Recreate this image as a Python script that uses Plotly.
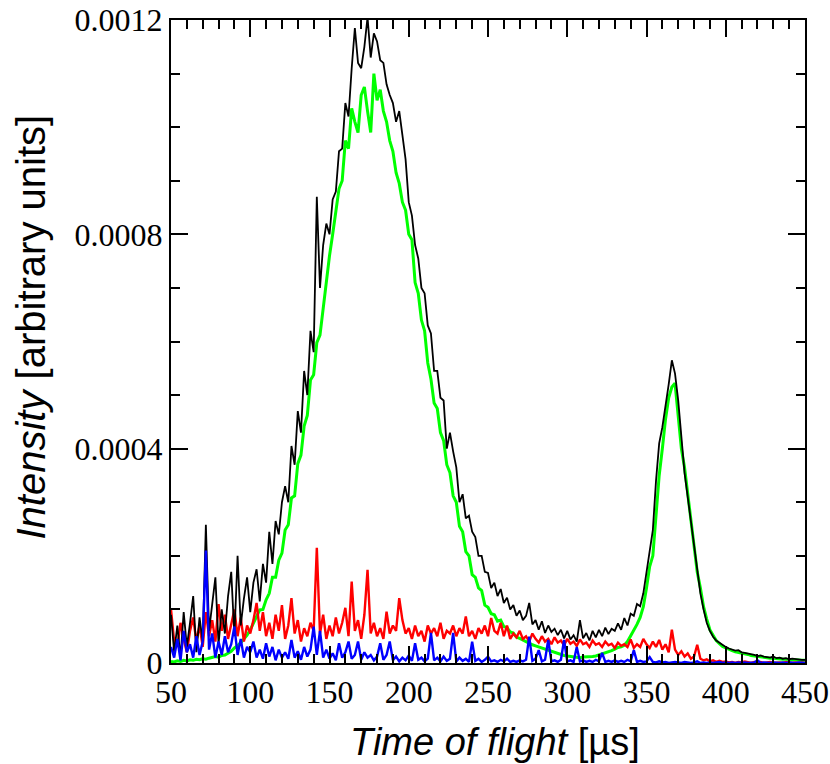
import plotly.graph_objects as go

# time of flight axis, 2 us sampling (50 .. 450 us)
tof = list(range(50, 451, 2))

# intensities in units of 1e-6 (arbitrary units)
total = [
    90, 20, 70, 10, 95, 30, 75, 125, 20, 85,
    40, 258, 60, 110, 160, 35, 100, 55, 125, 170,
    50, 200, 70, 120, 160, 95, 150, 175, 115, 185,
    150, 245, 185, 265, 240, 300, 330, 300, 405, 370,
    470, 430, 545, 500, 620, 580, 870, 700, 780, 820,
    800, 865, 880, 955, 960, 1045, 1020, 1110, 1185, 1120,
    1110, 1150, 1205, 1130, 1175, 1160, 1125, 1120, 1080, 1060,
    1045, 1010, 1030, 985, 940, 860, 835, 780, 755, 700,
    690, 630, 615, 545, 545, 495, 490, 400, 430, 395,
    365, 300, 315, 270, 275, 245, 235, 200, 200, 170,
    168, 140, 150, 125, 138, 112, 122, 100, 108, 88,
    98, 80, 88, 112, 72, 80, 62, 78, 56, 70,
    58, 64, 52, 62, 46, 60, 44, 52, 40, 80,
    46, 56, 42, 60, 48, 62, 50, 66, 54, 64,
    60, 74, 62, 84, 70, 92, 88, 110, 106, 130,
    170, 205, 248, 340, 410, 440, 478, 520, 565, 540,
    490, 420, 355, 310, 265, 210, 165, 130, 100, 75,
    60, 49, 42, 38, 33, 30, 27, 25, 23, 24,
    20, 19, 18, 16, 15, 13, 14, 12, 11, 10,
    12, 9, 10, 8, 9, 7, 8, 7, 6, 6,
    6,
]

fit = [
    3, 2, 4, 3, 5, 4, 6, 5, 7, 6,
    8, 7, 9, 10, 12, 11, 14, 15, 18, 22,
    28, 32, 38, 44, 52, 62, 75, 85, 99, 100,
    118, 130, 160, 160, 192, 205, 248, 258, 308, 312,
    372, 388, 442, 462, 528, 538, 598, 612, 662, 705,
    760, 800, 840, 885, 900, 975, 960, 1035, 1010, 990,
    1060, 1075, 1030, 990, 1100, 1050, 1070, 1030, 1010, 975,
    955, 915, 895, 860, 845, 800, 790, 710, 690, 640,
    620, 560, 530, 485, 475, 430, 415, 370, 355, 312,
    300, 255, 245, 208, 200, 165, 160, 140, 135, 108,
    104, 92, 90, 78, 80, 68, 66, 58, 56, 48,
    46, 43, 40, 36, 34, 32, 30, 28, 25, 23,
    21, 19, 17, 16, 14, 13, 12, 11, 11, 10,
    11, 11, 11, 12, 13, 15, 16, 18, 20, 23,
    26, 29, 30, 33, 40, 50, 60, 72, 85, 105,
    140, 180, 200, 285, 350, 400, 455, 495, 515, 522,
    460, 400, 365, 315, 260, 210, 170, 140, 105, 82,
    62, 52, 42, 36, 31, 28, 25, 23, 21, 20,
    18, 17, 16, 14, 13, 12, 11, 10, 10, 9,
    9, 8, 8, 7, 7, 6, 6, 6, 5, 5,
    5,
]

red_comp = [
    100, 40, 30, 75, 45, 20, 60, 85, 40, 70,
    30, 95, 50, 80, 40, 110, 60, 90, 45, 75,
    100, 50, 85, 40, 70, 55, 80, 112, 60, 95,
    50, 75, 45, 90, 60, 108, 45, 70, 121, 55,
    80, 40, 65, 50, 75, 60, 215, 55, 90, 45,
    70, 50, 85, 55, 75, 103, 50, 152, 60, 80,
    45, 90, 174, 55, 75, 50, 65, 45, 96, 55,
    70, 60, 121, 80, 55, 65, 45, 70, 50, 60,
    40, 70, 55, 65, 50, 75, 45, 60, 55, 70,
    50, 65, 55, 87, 50, 60, 45, 65, 55, 70,
    50, 84, 60, 55, 75, 50, 70, 45, 55, 48,
    60, 45, 50, 40, 55, 45, 38, 50, 40, 45,
    35, 48, 38, 42, 33, 45, 36, 40, 32, 44,
    35, 38, 30, 42, 34, 37, 30, 40, 33, 36,
    28, 38, 32, 35, 30, 44, 28, 35, 30, 45,
    35, 28, 40, 30, 43, 25, 35, 20, 62, 25,
    15, 22, 12, 18, 8, 12, 34, 8, 5, 7,
    3, 5, 2, 4, 2, 3, 1, 2, 0, 2,
    1, 3, 1, 0, 2, 1, 2, 0, 1, 2,
    0, 1, 1, 0, 2, 1, 0, 1, 0, 1,
    0,
]

blue_comp = [
    30, 10, 45, 5, 60, 20, 35, 10, 50, 15,
    40, 210, 25, 55, 10, 40, 15, 50, 20, 35,
    68, 15, 45, 10, 30, 20, 40, 10, 25, 8,
    37, 12, 30, 5, 25, 10, 20, 8, 43, 10,
    22, 6, 30, 12, 25, 68, 15, 60, 10, 25,
    8, 18, 5, 37, 10, 20, 40, 8, 15, 40,
    6, 20, 10, 15, 5, 12, 37, 6, 15, 40,
    5, 12, 3, 10, 5, 14, 4, 37, 6, 10,
    3, 8, 56, 5, 10, 3, 12, 4, 8, 56,
    3, 10, 4, 8, 2, 40, 4, 8, 2, 6,
    12, 3, 5, 2, 6, 3, 8, 2, 4, 2,
    5, 3, 6, 49, 4, 8, 24, 3, 6, 43,
    3, 5, 2, 6, 43, 3, 5, 2, 30, 3,
    5, 2, 4, 2, 6, 3, 19, 2, 4, 2,
    5, 2, 4, 2, 6, 3, 24, 2, 4, 2,
    3, 11, 2, 1, 3, 1, 2, 0, 1, 2,
    1, 0, 2, 1, 0, 1, 3, 0, 1, 0,
    1, 0, 1, 2, 0, 1, 0, 1, 0, 1,
    0, 1, 0, 0, 1, 5, 0, 1, 0, 0,
    1, 0, 0, 1, 0, 1, 0, 0, 1, 0,
    0,
]

x_ticks = [50, 100, 150, 200, 250, 300, 350, 400, 450]
y_ticks = [0, 0.0004, 0.0008, 0.0012]
y_tick_labels = ["0", "0.0004", "0.0008", "0.0012"]

SCALE = 1e-6

fig = go.Figure()
series = [
    (fit, "#00ff00", 3.0, "fit"),
    (red_comp, "#ff0000", 2.4, "red"),
    (total, "#000000", 1.8, "total"),
    (blue_comp, "#0000ff", 2.4, "blue"),
]
for vals, col, w, name in series:
    n = min(len(vals), len(tof))
    fig.add_trace(go.Scatter(
        x=tof[:n], y=[v * SCALE for v in vals[:n]], mode="lines",
        line=dict(color=col, width=w), name=name, showlegend=False,
    ))

tickfont = dict(family="Liberation Serif, Times New Roman, serif", size=32, color="black")
sans = "Liberation Sans, Arial, sans-serif"

fig.update_layout(
    width=830, height=764,
    margin=dict(l=171, r=25, t=20, b=101),
    paper_bgcolor="white", plot_bgcolor="white",
    showlegend=False,
    annotations=[
        dict(text="<i>Time of flight</i> [µs]", xref="paper", yref="paper",
             x=0.5, y=0, xanchor="center", yanchor="middle", yshift=-79, xshift=7,
             showarrow=False, font=dict(family=sans, size=38, color="black")),
        dict(text="<i>Intensity</i> [arbitrary units]", xref="paper", yref="paper",
             x=0, y=0.5, xanchor="center", yanchor="middle", xshift=-141, yshift=14,
             textangle=-90, showarrow=False, font=dict(family=sans, size=40, color="black")),
    ],
)
fig.update_xaxes(
    range=[50, 450], tickvals=x_ticks, ticktext=[str(v) for v in x_ticks],
    ticks="inside", ticklen=17, tickwidth=1.5, tickcolor="black",
    minor=dict(dtick=10, tick0=50, ticks="inside", ticklen=9, tickwidth=1.5, tickcolor="black"),
    showline=True, linewidth=2, linecolor="black", mirror="allticks",
    showgrid=False, zeroline=False, tickfont=tickfont, automargin=False,
)
fig.update_yaxes(
    range=[0, 0.0012], tickvals=y_ticks, ticktext=y_tick_labels,
    ticks="inside", ticklen=17, tickwidth=1.5, tickcolor="black",
    minor=dict(dtick=0.0001, tick0=0, ticks="inside", ticklen=9, tickwidth=1.5, tickcolor="black"),
    showline=True, linewidth=2, linecolor="black", mirror="allticks",
    showgrid=False, zeroline=False, tickfont=tickfont, automargin=False,
)

fig.write_html("out.html")
